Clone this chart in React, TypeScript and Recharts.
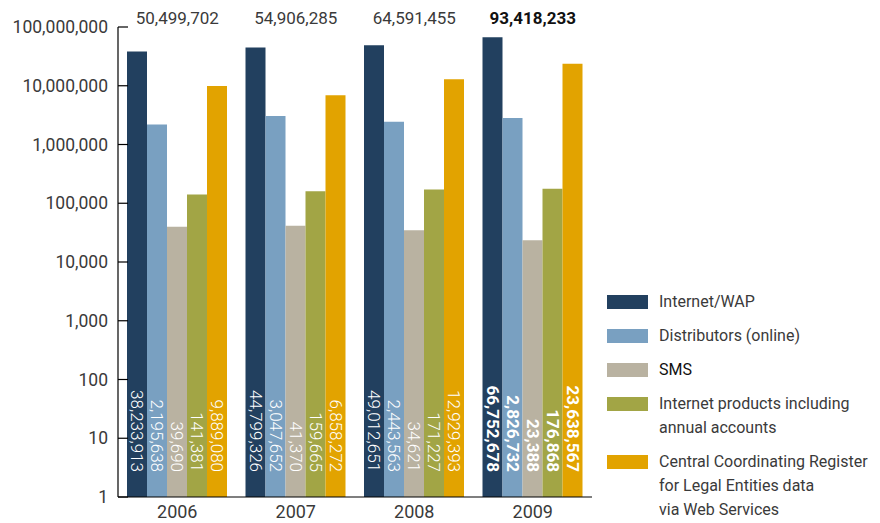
import React from "react";
import { BarChart, Bar, XAxis, YAxis, LabelList } from "recharts";

const years = ["2006", "2007", "2008", "2009"];
const internetWap = [38233913, 44799326, 49012651, 66752678];
const distributors = [2195638, 3047652, 2443563, 2826732];
const sms = [39690, 41370, 34621, 23388];
const internetProducts = [141381, 159665, 171227, 176868];
const ccr = [9889080, 6858272, 12929393, 23638567];
const totals = [50499702, 54906285, 64591455, 93418233];
const highlightYear = "2009";

const yTicks = [1, 10, 100, 1000, 10000, 100000, 1000000, 10000000, 100000000];

const seriesKeys = ["internetWap", "distributors", "sms", "internetProducts", "ccr"];
const seriesNames = [
  "Internet/WAP",
  "Distributors (online)",
  "SMS",
  "Internet products including\nannual accounts",
  "Central Coordinating Register\nfor Legal Entities data\nvia Web Services",
];
const seriesColors = ["#22405f", "#79a0c1", "#b9b2a1", "#a2a545", "#e2a300"];

const data = years.map((year, i) => ({
  year,
  total: totals[i],
  internetWap: internetWap[i],
  distributors: distributors[i],
  sms: sms[i],
  internetProducts: internetProducts[i],
  ccr: ccr[i],
}));

const FONT = "Roboto, 'DejaVu Sans', sans-serif";
const fmt = (v: number) => v.toLocaleString("en-US");

const YTick = (props: any) => {
  const { x, y, payload } = props;
  return (
    <g>
      <line x1={x + 10} x2={x + 20} y1={y} y2={y} stroke="#000" strokeWidth={1.2} />
      <text x={x} y={y} textAnchor="end" dominantBaseline="central" fontSize={17.5} fill="#3a3a3a" fontFamily={FONT}>
        {fmt(payload.value)}
      </text>
    </g>
  );
};

const YearTick = (props: any) => {
  const { x, y, payload } = props;
  return (
    <text x={x} y={y} dy={21} textAnchor="middle" fontSize={18} fill="#3a3a3a" fontFamily={FONT}>
      {payload.value}
    </text>
  );
};

const TotalTick = (props: any) => {
  const { x, y, index, payload } = props;
  const bold = payload.value === highlightYear;
  return (
    <text
      x={x}
      y={y - 3}
      textAnchor="middle"
      fontSize={17}
      fontWeight={bold ? 700 : 400}
      fill={bold ? "#111" : "#3a3a3a"}
      fontFamily={FONT}
    >
      {fmt(totals[index])}
    </text>
  );
};

const BarLabel = (props: any) => {
  const { x, y, width, height, value, index } = props;
  const cx = x + width / 2;
  const by = y + height - 25;
  const bold = years[index] === highlightYear;
  return (
    <text
      x={cx}
      y={by}
      transform={`rotate(90 ${cx} ${by})`}
      textAnchor="end"
      dominantBaseline="central"
      fill="#fff"
      fontSize={17}
      fontWeight={bold ? 700 : 300}
      fontFamily={FONT}
    >
      {fmt(value)}
    </text>
  );
};

const LegendBox = () => (
  <div style={{ position: "absolute", left: 599, top: 282, width: 280, fontFamily: FONT }}>
    {seriesNames.map((name, i) => (
      <div key={i} style={{ display: "flex", alignItems: "flex-start", marginBottom: 10 }}>
        <div style={{ width: 41, height: 14, marginTop: 5, background: seriesColors[i], flexShrink: 0 }} />
        <div
          style={{
            marginLeft: 11,
            fontSize: 16,
            lineHeight: "24px",
            color: name === "SMS" ? "#111" : "#3a3a3a",
            whiteSpace: "pre-line",
          }}
        >
          {name}
        </div>
      </div>
    ))}
  </div>
);

export default function App() {
  return (
    <div style={{ position: "relative", width: 872, height: 515 }}>
      <BarChart
        width={872}
        height={515}
        data={data}
        margin={{ top: 0, right: 288, bottom: 0, left: 0 }}
        barGap={0}
        barSize={20}
      >
        <XAxis
          xAxisId="t"
          orientation="top"
          dataKey="year"
          height={19}
          axisLine={false}
          tickLine={false}
          tickSize={0}
          tickMargin={0}
          tick={<TotalTick />}
          interval={0}
        />
        <XAxis
          xAxisId="b"
          dataKey="year"
          height={26}
          axisLine={{ stroke: "#000", strokeWidth: 1.2 }}
          tickLine={false}
          tickSize={0}
          tickMargin={0}
          tick={<YearTick />}
          interval={0}
        />
        <YAxis
          scale="log"
          type="number"
          domain={[1, 100000000]}
          ticks={yTicks}
          allowDataOverflow
          width={110}
          axisLine={{ stroke: "#000", strokeWidth: 1.2 }}
          tickLine={false}
          tickSize={0}
          tickMargin={10}
          tick={<YTick />}
          interval={0}
        />
        {seriesKeys.map((key, i) => (
          <Bar
            key={key}
            xAxisId="b"
            dataKey={key}
            name={seriesNames[i]}
            fill={seriesColors[i]}
            isAnimationActive={false}
          >
            <LabelList dataKey={key} content={<BarLabel />} />
          </Bar>
        ))}
      </BarChart>
      <LegendBox />
    </div>
  );
}
